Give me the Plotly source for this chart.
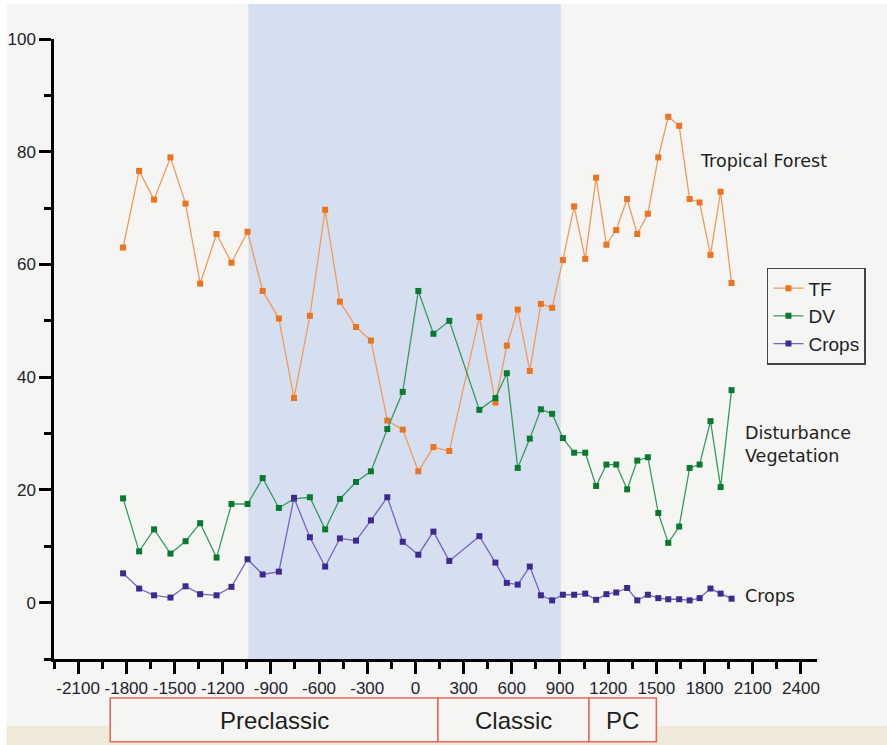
import plotly.graph_objects as go

# Sample ages (years, negative = BC) and pollen percentages per group
years = [-1820, -1720, -1627, -1525, -1431, -1340, -1238, -1145, -1045, -951,
         -850, -756, -657, -562, -470, -370, -277, -175, -79, 18,
         112, 211, 398, 498, 569, 637, 712, 781, 851, 918,
         988, 1057, 1125, 1189, 1250, 1318, 1381, 1447, 1512, 1574,
         1642, 1707, 1769, 1837, 1900, 1968]

tf = [63.0, 76.6, 71.5, 79.0, 70.8, 56.6, 65.4, 60.3, 65.8, 55.3,
      50.4, 36.3, 50.9, 69.7, 53.4, 48.9, 46.5, 32.3, 30.7, 23.3,
      27.6, 26.9, 50.7, 35.5, 45.6, 52.0, 41.1, 53.0, 52.3, 60.8,
      70.3, 61.0, 75.4, 63.5, 66.1, 71.6, 65.4, 69.0, 79.0, 86.2,
      84.6, 71.6, 71.0, 61.7, 72.9, 56.7]

dv = [18.5, 9.1, 13.0, 8.7, 10.9, 14.1, 8.0, 17.5, 17.5, 22.1,
      16.8, 18.4, 18.7, 13.0, 18.4, 21.4, 23.3, 30.8, 37.4, 55.3,
      47.7, 50.0, 34.2, 36.3, 40.7, 23.9, 29.1, 34.3, 33.5, 29.2,
      26.6, 26.6, 20.7, 24.5, 24.5, 20.1, 25.2, 25.8, 15.9, 10.6,
      13.5, 23.9, 24.5, 32.2, 20.5, 37.7]

crops = [5.2, 2.5, 1.3, 0.9, 2.9, 1.5, 1.3, 2.8, 7.7, 5.0,
         5.5, 18.6, 11.6, 6.4, 11.4, 11.0, 14.6, 18.7, 10.8, 8.5,
         12.6, 7.4, 11.8, 7.1, 3.5, 3.2, 6.4, 1.3, 0.4, 1.4,
         1.4, 1.6, 0.5, 1.5, 1.8, 2.6, 0.4, 1.4, 0.8, 0.6,
         0.6, 0.4, 0.8, 2.5, 1.6, 0.7]

series_names = ["TF", "DV", "Crops"]

x_tick_vals = [-2100, -1800, -1500, -1200, -900, -600, -300, 0, 300, 600,
               900, 1200, 1500, 1800, 2100, 2400]
x_tick_text = ["-2100", "-1800", "-1500", "-1200", "-900", "-600", "-300", "0",
               "300", "600", "900", "1200", "1500", "1800", "2100", "2400"]
y_tick_vals = [0, 20, 40, 60, 80, 100]
y_tick_text = ["0", "20", "40", "60", "80", "100"]

# Cultural periods (start year, end year)
period_names = ["Preclassic", "Classic", "PC"]
period_bounds = [(-1900, 140), (140, 1080), (1080, 1500)]
shaded_span = (-1040, 905)

BG = "#f5f5f3"
TICK_FONT = dict(family="Liberation Sans, Arial, sans-serif", size=17, color="#23232f")
NOTE_FONT = dict(family="DejaVu Sans, Verdana, sans-serif", size=17.5, color="#1e1e1e")

styles = {
    "TF": dict(line="#f29a5e", marker="#ea7420"),
    "DV": dict(line="#3a9960", marker="#0b7a30"),
    "Crops": dict(line="#7a62c2", marker="#3e2a8e"),
}

fig = go.Figure()
for name, values in zip(series_names, [tf, dv, crops]):
    st = styles[name]
    fig.add_trace(go.Scatter(
        x=years, y=values, name=name, mode="lines+markers",
        line=dict(color=st["line"], width=1.3),
        marker=dict(symbol="square", size=6, color=st["marker"]),
    ))

shapes = [
    # page edges
    dict(type="rect", xref="paper", yref="paper", x0=-0.2, x1=1.2, y0=1.0565, y1=1.2,
         fillcolor="white", line_width=0, layer="below"),
    dict(type="rect", xref="paper", yref="paper", x0=-0.2, x1=-0.0619, y0=-0.3, y1=1.2,
         fillcolor="white", line_width=0, layer="below"),
    dict(type="rect", xref="paper", yref="paper", x0=-0.0619, x1=1.2, y0=-0.3, y1=-0.1081,
         fillcolor="#efe9d9", line_width=0, layer="below"),
    # shaded interval
    dict(type="rect", xref="x", yref="paper", x0=shaded_span[0], x1=shaded_span[1],
         y0=0, y1=1.0565, fillcolor="#d5dfef", line_width=0, layer="below"),
]
for (x0, x1) in period_bounds:
    shapes.append(dict(type="rect", xref="x", yref="paper", x0=x0, x1=x1,
                       y0=-0.1334, y1=-0.0629, fillcolor=BG,
                       line=dict(color="#e8685a", width=1.6), layer="above"))

annotations = []
for name, (x0, x1) in zip(period_names, period_bounds):
    annotations.append(dict(x=(x0 + x1) / 2, y=-0.0985, xref="x", yref="paper",
                            text=name, showarrow=False, yanchor="middle",
                            font=dict(family="Liberation Sans, Arial, sans-serif",
                                      size=24, color="#1e1e1e")))
annotations += [
    dict(x=1760, y=78.4, xref="x", yref="y", text="Tropical Forest", showarrow=False,
         xanchor="left", yanchor="middle", font=NOTE_FONT),
    dict(x=2041, y=28.0, xref="x", yref="y", text="Disturbance<br>Vegetation",
         showarrow=False, xanchor="left", yanchor="middle", align="left", font=NOTE_FONT),
    dict(x=2041, y=1.2, xref="x", yref="y", text="Crops", showarrow=False,
         xanchor="left", yanchor="middle", font=NOTE_FONT),
]

fig.update_layout(
    width=887, height=745,
    margin=dict(l=54, r=70, t=39, b=86, autoexpand=False),
    paper_bgcolor=BG, plot_bgcolor="rgba(0,0,0,0)",
    showlegend=True,
    legend=dict(x=0.9344, y=0.631, xanchor="left", yanchor="top",
                bgcolor=BG, bordercolor="#444444", borderwidth=1.5,
                font=dict(family="Liberation Sans, Arial, sans-serif", size=19,
                          color="#1e1e28"),
                tracegroupgap=0),
    shapes=shapes,
    annotations=annotations,
    xaxis=dict(range=[-2250, 2500], showgrid=False, zeroline=False, automargin=False,
               showline=True, linecolor="black", linewidth=2.5,
               tickmode="array", tickvals=x_tick_vals, ticktext=x_tick_text,
               ticks="outside", ticklen=12, tickwidth=2.5, tickcolor="black",
               tickfont=TICK_FONT,
               minor=dict(tickmode="linear", tick0=-2250, dtick=150, ticks="outside",
                          ticklen=7, tickwidth=2.5, tickcolor="black", showgrid=False)),
    yaxis=dict(range=[-10, 100], showgrid=False, zeroline=False, automargin=False,
               showline=True, linecolor="black", linewidth=2.5,
               tickmode="array", tickvals=y_tick_vals, ticktext=y_tick_text,
               ticks="outside", ticklen=12, tickwidth=2.5, tickcolor="black",
               tickfont=TICK_FONT,
               minor=dict(tickmode="linear", tick0=-10, dtick=10, ticks="outside",
                          ticklen=7, tickwidth=2.5, tickcolor="black", showgrid=False)),
)

fig.write_html("out.html", config={"displayModeBar": False})
